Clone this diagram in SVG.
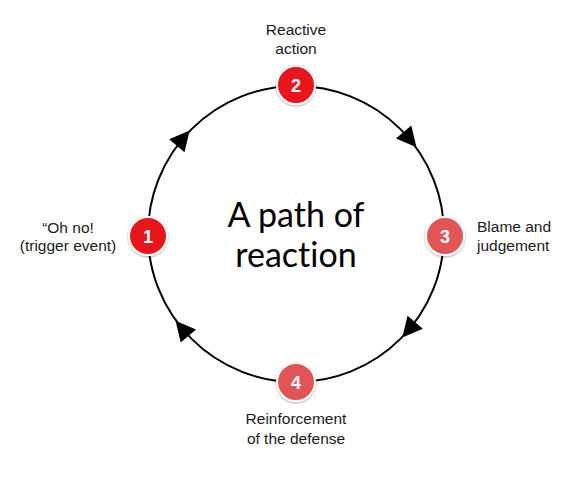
<svg xmlns="http://www.w3.org/2000/svg" width="581" height="480" viewBox="0 0 581 480">
<defs>
<style>
.ring{fill:none;stroke:#000;stroke-width:2}
.arr{fill:#000}
.lbl{font-family:"Liberation Sans",Arial,sans-serif;font-size:15.5px;fill:#1a1a1a}
.title{font-family:Lato,"Open Sans",sans-serif;font-size:34px;fill:#000;font-variant-ligatures:none}
.num{font-family:"Liberation Sans",Arial,sans-serif;font-size:18px;font-weight:bold;fill:#fff;text-anchor:middle}
.dark{fill:#e6141b;stroke:#fff;stroke-width:2}
.light{fill:#e05454;stroke:#fff;stroke-width:2}
</style>
<filter id="sh" x="-30%" y="-30%" width="160%" height="160%">
<feDropShadow dx="0" dy="1" stdDeviation="1.2" flood-color="#000" flood-opacity="0.35"/>
</filter>
</defs>
<rect width="581" height="480" fill="#fff"/>
<g id="connectors">
<circle class="ring" cx="296" cy="234" r="148"/>
<polygon class="arr" points="11,0 -9,-10 -9,10" transform="translate(182.6,138.9) rotate(310)"/>
<polygon class="arr" points="11,0 -9,-10 -9,10" transform="translate(409.4,138.9) rotate(50)"/>
<polygon class="arr" points="11,0 -9,-10 -9,10" transform="translate(409.4,329.1) rotate(130)"/>
<polygon class="arr" points="11,0 -9,-10 -9,10" transform="translate(182.6,329.1) rotate(230)"/>
</g>
<g id="title">
<text class="title" x="296" y="227" text-anchor="middle">A path of</text>
<text class="title" x="296" y="267" text-anchor="middle">reaction</text>
</g>
<g id="node1">
<circle class="dark" cx="148" cy="236" r="19" filter="url(#sh)"/>
<text class="num" x="148" y="242.5">1</text>
<text class="lbl" x="68" y="233" text-anchor="middle">“Oh no!</text>
<text class="lbl" x="68" y="251" text-anchor="middle">(trigger event)</text>
</g>
<g id="node2">
<circle class="dark" cx="296" cy="85" r="19" filter="url(#sh)"/>
<text class="num" x="296" y="91.5">2</text>
<text class="lbl" x="296" y="35" text-anchor="middle">Reactive</text>
<text class="lbl" x="296" y="54" text-anchor="middle">action</text>
</g>
<g id="node3">
<circle class="light" cx="445" cy="236" r="19" filter="url(#sh)"/>
<text class="num" x="445" y="242.5">3</text>
<text class="lbl" x="477" y="232">Blame and</text>
<text class="lbl" x="477" y="251">judgement</text>
</g>
<g id="node4">
<circle class="light" cx="296" cy="382" r="19" filter="url(#sh)"/>
<text class="num" x="296" y="388.5">4</text>
<text class="lbl" x="296" y="424" text-anchor="middle">Reinforcement</text>
<text class="lbl" x="296" y="444" text-anchor="middle">of the defense</text>
</g>
</svg>
